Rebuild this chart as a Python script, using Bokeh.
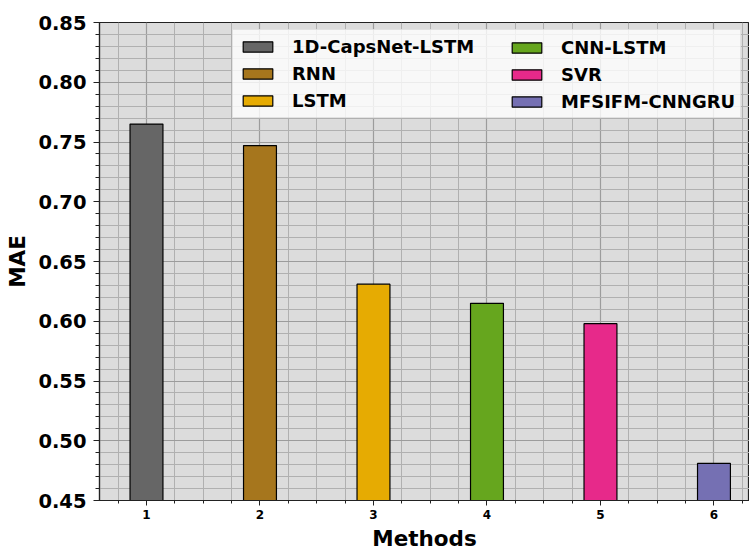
from bokeh.plotting import figure
from bokeh.models import (ColumnDataSource, FixedTicker, Legend, LegendItem,
                          PrintfTickFormatter)
from bokeh.embed import file_html
from bokeh.resources import INLINE

methods = ["1D-CapsNet-LSTM", "RNN", "LSTM", "CNN-LSTM", "SVR", "MFSIFM-CNNGRU"]
positions = [1, 2, 3, 4, 5, 6]
mae = [0.765, 0.747, 0.631, 0.615, 0.598, 0.481]
colors = ["#666666", "#a6761d", "#e6ab02", "#66a61e", "#e7298a", "#7570b3"]
y_ticks = [0.45, 0.50, 0.55, 0.60, 0.65, 0.70, 0.75, 0.80, 0.85]
y_minor = [round(0.45 + 0.01 * i, 2) for i in range(41)]
x_minor = [0.75, 1.25, 1.5, 1.75, 2.25, 2.5, 2.75, 3.25, 3.5, 3.75,
           4.25, 4.5, 4.75, 5.25, 5.5, 5.75, 6.25]

FONT = "DejaVu Sans"

src = ColumnDataSource(dict(x=positions, top=mae, color=colors, label=methods))

p = figure(width=749, height=553, output_backend="svg", toolbar_location=None,
           x_range=(0.586, 6.313), y_range=(0.45, 0.85),
           min_border_left=99, min_border_right=0, min_border_top=22, min_border_bottom=52)

p.background_fill_color = "#dcdcdc"
p.border_fill_color = "white"
p.outline_line_color = "#222222"
p.outline_line_width = 1.2

r = p.vbar(x="x", top="top", bottom=0.45, width=0.29, fill_color="color",
           line_color="black", line_width=1.2, source=src)

p.xaxis.ticker = FixedTicker(ticks=positions, minor_ticks=x_minor)
p.yaxis.ticker = FixedTicker(ticks=y_ticks, minor_ticks=y_minor)
p.yaxis.formatter = PrintfTickFormatter(format="%.2f")

for g in (p.xgrid, p.ygrid):
    g.grid_line_color = "#9c9c9c"
    g.grid_line_width = 1.2
    g.minor_grid_line_color = "#b0b0b0"
    g.minor_grid_line_width = 1.0

for ax in (p.xaxis, p.yaxis):
    ax.axis_line_color = "#222222"
    ax.axis_line_width = 1.2
    ax.major_tick_line_color = "#222222"
    ax.minor_tick_line_color = "#222222"
    ax.major_tick_in = 0
    ax.minor_tick_in = 0
    ax.major_label_text_font = FONT
    ax.major_label_text_font_style = "bold"
    ax.axis_label_text_font = FONT
    ax.axis_label_text_font_style = "bold"
    ax.axis_label_text_color = "black"
    ax.major_label_text_color = "black"

p.yaxis.major_tick_out = 6
p.yaxis.minor_tick_out = 4
p.xaxis.major_tick_out = 5
p.xaxis.minor_tick_out = 3
p.yaxis.major_label_text_font_size = "19.5px"
p.yaxis.major_label_standoff = 7
p.xaxis.major_label_text_font_size = "12px"
p.xaxis.major_label_standoff = 4
p.yaxis.axis_label = "MAE"
p.xaxis.axis_label = "Methods"
p.yaxis.axis_label_text_font_size = "21.5px"
p.xaxis.axis_label_text_font_size = "21.5px"
p.xaxis.axis_label_standoff = 4
p.yaxis.axis_label_standoff = 5


def make_legend(idx, loc, label_width, boxed):
    lg = Legend(items=[LegendItem(label=methods[i], renderers=[r], index=i) for i in idx],
                location=loc, orientation="vertical")
    lg.label_text_font = FONT
    lg.label_text_font_style = "bold"
    lg.label_text_font_size = "18px"
    lg.label_text_color = "black"
    lg.glyph_width = 37
    lg.glyph_height = 13
    lg.label_height = 21
    lg.label_width = label_width
    lg.spacing = 6
    lg.label_standoff = 16
    lg.padding = 6
    lg.margin = 0
    if boxed:
        lg.background_fill_color = "white"
        lg.background_fill_alpha = 0.8
        lg.border_line_color = "#cccccc"
        lg.border_line_width = 1
    else:
        lg.background_fill_alpha = 0
        lg.border_line_alpha = 0
    return lg


p.add_layout(make_legend([0, 1, 2], (133, 382), 442, True), "center")
p.add_layout(make_legend([3, 4, 5], (403, 382), 20, False), "center")

open("out.html", "w").write(file_html(p, INLINE))
